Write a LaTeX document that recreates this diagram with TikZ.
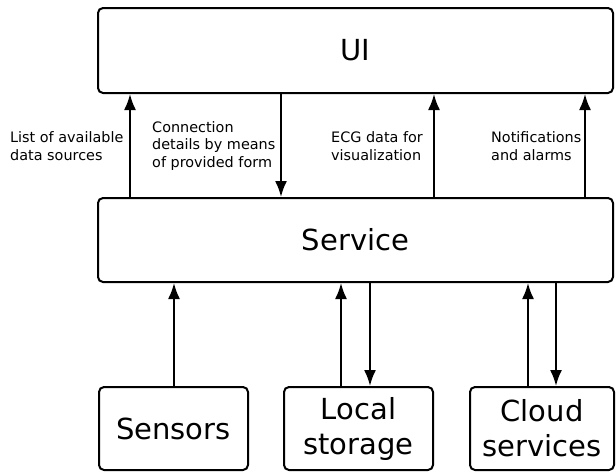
\documentclass[tikz,border=0pt]{standalone}
\usepackage{fontspec}
\setmainfont{DejaVu Sans}
\usepackage{tikz}
\usetikzlibrary{arrows.meta,positioning}

\begin{document}
\begin{tikzpicture}[x=1pt,y=-1pt]
      \tikzstyle{point} = [coordinate]
      \tikzstyle{block} = [rectangle, draw, line width=2pt, rounded corners=5pt,
                           align=center, font=\fontsize{29}{35}\selectfont]
      \tikzstyle{lbl} = [anchor=west, inner sep=0pt, align=left,
                         font=\fontsize{14.4}{17.5}\selectfont]
      \tikzstyle{flow} = [line width=2pt, -{Latex[length=16pt,width=12pt]}]
      \useasboundingbox (0,0) rectangle (616,472);
      % boxes
      \node (ui) [block, minimum width=515pt, minimum height=85pt] at (355.5,50.5) {UI};
      \node (service) [block, minimum width=515pt, minimum height=84pt] at (355.5,240) {Service};
      \node (sensors) [block, minimum width=149pt, minimum height=83pt] at (173.5,428.5) {Sensors};
      \node (local) [block, minimum width=149pt, minimum height=83pt] at (358.5,428.5) {Local\\storage};
      \node (cloud) [block, minimum width=144pt, minimum height=83pt] at (542,428.5) {Cloud\\services};
      % arrow positions
      \node (t1) [point] at (130,0) {};
      \node (t2) [point] at (281,0) {};
      \node (t3) [point] at (434,0) {};
      \node (t4) [point] at (585,0) {};
      \node (b1) [point] at (174,0) {};
      \node (b2) [point] at (341,0) {};
      \node (b3) [point] at (370,0) {};
      \node (b4) [point] at (528,0) {};
      \node (b5) [point] at (556,0) {};
      % UI <-> Service
      \draw [flow] (service.north -| t1)--(ui.south -| t1);
      \draw [flow] (ui.south -| t2)--(service.north -| t2);
      \draw [flow] (service.north -| t3)--(ui.south -| t3);
      \draw [flow] (service.north -| t4)--(ui.south -| t4);
      % Service <-> sources
      \draw [flow] (sensors.north -| b1)--(service.south -| b1);
      \draw [flow] (local.north -| b2)--(service.south -| b2);
      \draw [flow] (service.south -| b3)--(local.north -| b3);
      \draw [flow] (cloud.north -| b4)--(service.south -| b4);
      \draw [flow] (service.south -| b5)--(cloud.north -| b5);
      % labels
      \node (l1) [lbl] at (10,146) {List of available\\data sources};
      \node (l2) [lbl] at (152,146) {Connection\\details by means\\of provided form};
      \node (l3) [lbl] at (331,146) {ECG data for\\visualization};
      \node (l4) [lbl] at (491,146) {Notifications\\and alarms};
\end{tikzpicture}
\end{document}
